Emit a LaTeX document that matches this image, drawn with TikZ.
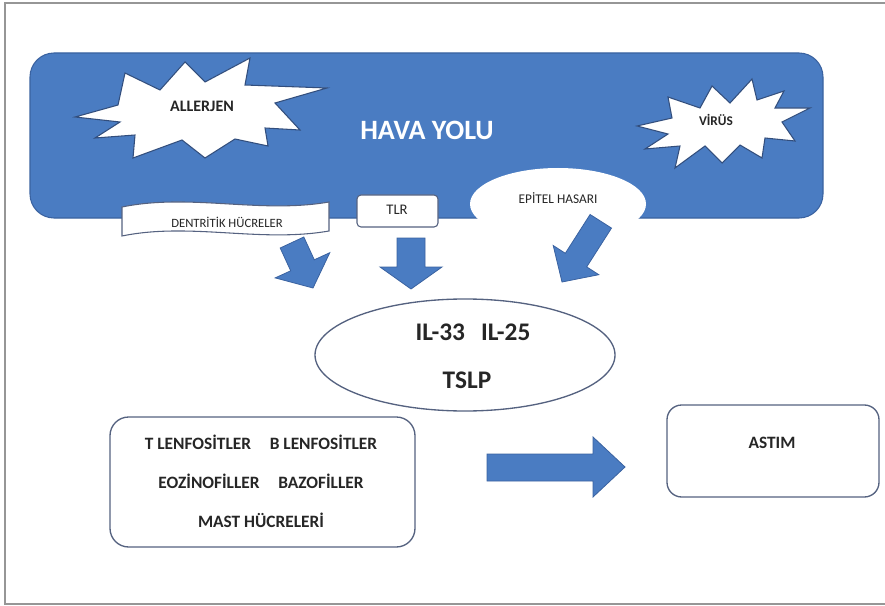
\documentclass[tikz,border=0pt]{standalone}
\usepackage{fontspec}
\setmainfont{Carlito}
\usetikzlibrary{shapes.geometric}
\definecolor{airblue}{RGB}{74,124,194}
\definecolor{airedge}{RGB}{58,98,160}
\definecolor{staredge}{RGB}{50,78,125}
\definecolor{boxedge}{RGB}{85,98,128}
\definecolor{txt}{RGB}{38,38,38}
\definecolor{framegray}{RGB}{150,150,150}
\begin{document}
\begin{tikzpicture}[x=0.75pt,y=-0.75pt,
  blockarr/.style={fill=airblue, draw=airedge, line width=0.6pt, line join=miter},
  airway/.style={fill=airblue, draw=airedge, line width=0.8pt, rounded corners=18pt},
  whitebox/.style={fill=white, draw=boxedge, line width=1pt},
  starshape/.style={fill=white, draw=staredge, line width=0.8pt, line join=miter},
  lbl/.style={font=\bfseries\fontsize{13}{15}\selectfont, text=txt, inner sep=0pt},
  smalllbl/.style={font=\fontsize{10}{12}\selectfont, text=txt, inner sep=0pt}]
\useasboundingbox (0,0) rectangle (885,606);
\clip (0,0) rectangle (885,606);
% outer frame
\draw[framegray, line width=1.5pt] (5,3) rectangle (900,604);

% airway
\node[airway, minimum width=594.75pt, minimum height=123.75pt, inner sep=0pt] (air) at (426.5,135.5) {};
\node[font=\bfseries\fontsize{21}{24}\selectfont, text=white, inner sep=0pt] (title) at (427,130) {HAVA YOLU};

% allergen star
\draw[starshape] (75,117) -- (118,105) -- (125,73) -- (160,90) -- (185,62) -- (205,82)
  -- (250,58) -- (245,85) -- (327,88) -- (275,103) -- (300,130) -- (265,128)
  -- (268,146) -- (235,139) -- (205,158) -- (182,140) -- (133,158) -- (135,135)
  -- (95,138) -- (120,122) -- cycle;
\node[lbl, font=\bfseries\fontsize{12}{14}\selectfont] (allerjen) at (202,106) {ALLERJEN};

% virus star
\draw[starshape] (637,126) -- (672,118) -- (668,97) -- (700,108) -- (712,86) -- (730,103)
  -- (752,79) -- (757,100) -- (784,91) -- (775,108) -- (810,108) -- (782,122)
  -- (795,141) -- (765,138) -- (762,158) -- (740,145) -- (722,163) -- (705,146)
  -- (675,168) -- (680,146) -- (645,149) -- (668,134) -- cycle;
\node[lbl, font=\bfseries\fontsize{10}{12}\selectfont] (virus) at (716,120) {VİRÜS};

% dendritic cells banner
\draw[whitebox, line width=0.8pt] (122,207) .. controls (190,193) and (260,214) .. (329,202)
  -- (329,231) .. controls (260,243) and (190,222) .. (122,236) -- cycle;
\node[smalllbl, font=\fontsize{9.5}{11}\selectfont] (dc) at (227,222) {DENTRİTİK HÜCRELER};

% TLR
\node[whitebox, line width=0.8pt, rounded corners=3pt, minimum width=60.75pt, minimum height=24pt, inner sep=0pt] (tlrbox) at (397.5,211) {};
\node[smalllbl, font=\fontsize{11}{12}\selectfont] (tlr) at (397,210) {TLR};

% epithelial damage
\node[ellipse, fill=white, minimum width=132pt, minimum height=54pt, inner sep=0pt] (epi) at (558,204) {};
\node[smalllbl] (epitxt) at (558,198) {EPİTEL HASARI};

% arrows toward cytokines
\filldraw[blockarr] (303.8,237) -- (314.3,259.8) -- (329.8,252.7) -- (313,288)
  -- (275.2,277.9) -- (290.7,270.8) -- (280.2,248) -- cycle;
\filldraw[blockarr] (397,238) -- (425,238) -- (425,267) -- (442,267) -- (411,289)
  -- (380,267) -- (397,267) -- cycle;
\filldraw[blockarr] (611.5,228.1) -- (586.7,266.9) -- (598.8,274.7) -- (562,282)
  -- (553.2,245.5) -- (565.3,253.3) -- (590.1,214.5) -- cycle;

% cytokines ellipse
\node[ellipse, draw=boxedge, line width=1pt, fill=white, minimum width=225pt, minimum height=84pt, inner sep=0pt] (cyto) at (465,355) {};
\node[lbl, font=\bfseries\fontsize{19}{21}\selectfont] (il) at (473,332) {IL-33\hspace{12pt}IL-25};
\node[lbl, font=\bfseries\fontsize{19}{21}\selectfont] (tslp) at (467,380) {TSLP};

% cells box
\node[whitebox, rounded corners=14pt, minimum width=228.75pt, minimum height=97.5pt, inner sep=0pt] (cells) at (262.5,482) {};
\node[lbl, align=center, font=\bfseries\fontsize{13}{29.25}\selectfont] (celltxt) at (261,481)
  {T LENFOSİTLER\hspace{14pt}B LENFOSİTLER\\EOZİNOFİLLER\hspace{14pt}BAZOFİLLER\\MAST HÜCRELERİ};

% right arrow
\filldraw[blockarr] (487,454) -- (593,454) -- (593,437) -- (625,467) -- (593,497)
  -- (593,481) -- (487,481) -- cycle;

% asthma box
\node[whitebox, rounded corners=11pt, minimum width=159pt, minimum height=69pt, inner sep=0pt] (astim) at (773,451) {};
\node[lbl] (astimtxt) at (772,443) {ASTIM};
\end{tikzpicture}
\end{document}
